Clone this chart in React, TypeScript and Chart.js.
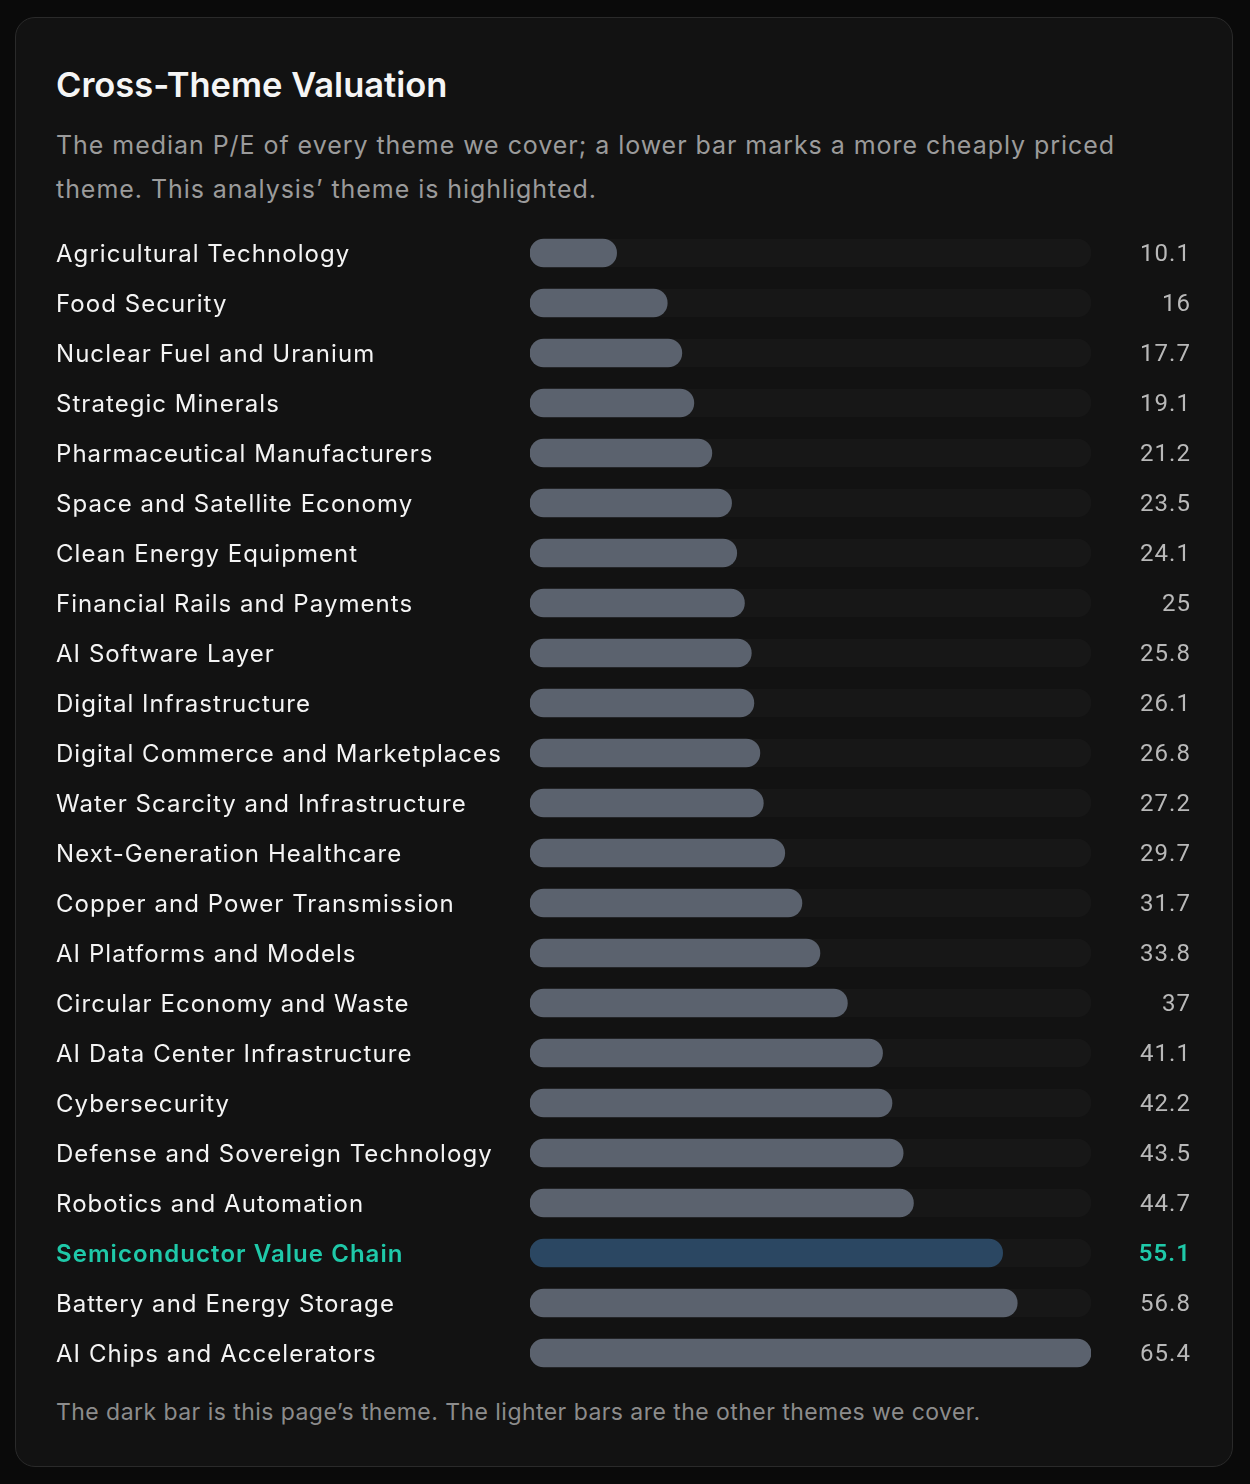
import React, { useEffect, useRef } from "react";
import { Chart, registerables } from "chart.js";

Chart.register(...registerables);

const themes: string[] = [
  "Agricultural Technology",
  "Food Security",
  "Nuclear Fuel and Uranium",
  "Strategic Minerals",
  "Pharmaceutical Manufacturers",
  "Space and Satellite Economy",
  "Clean Energy Equipment",
  "Financial Rails and Payments",
  "AI Software Layer",
  "Digital Infrastructure",
  "Digital Commerce and Marketplaces",
  "Water Scarcity and Infrastructure",
  "Next-Generation Healthcare",
  "Copper and Power Transmission",
  "AI Platforms and Models",
  "Circular Economy and Waste",
  "AI Data Center Infrastructure",
  "Cybersecurity",
  "Defense and Sovereign Technology",
  "Robotics and Automation",
  "Semiconductor Value Chain",
  "Battery and Energy Storage",
  "AI Chips and Accelerators",
];

const medianPE: number[] = [
  10.1, 16, 17.7, 19.1, 21.2, 23.5, 24.1, 25, 25.8, 26.1, 26.8, 27.2, 29.7,
  31.7, 33.8, 37, 41.1, 42.2, 43.5, 44.7, 55.1, 56.8, 65.4,
];

const valueLabels: string[] = medianPE.map((v) => String(v));

const highlightTheme = "Semiconductor Value Chain";

const TITLE = "Cross-Theme Valuation";
const SUBTITLE =
  "The median P/E of every theme we cover; a lower bar marks a more cheaply priced theme. This analysis\u2019 theme is highlighted.";
const FOOTER =
  "The dark bar is this page\u2019s theme. The lighter bars are the other themes we cover.";

const FONT = "Inter, 'Noto Sans', sans-serif";
const NUM_FONT = "Roboto, Inter, sans-serif";
const BAR = "#5b626e";
const BAR_HL = "#2b4762";
const TRACK = "#171717";
const TEAL = "#1fc9a9";

const letterSpacingPlugin = {
  id: "letterSpacing",
  beforeDraw(chart: any) {
    try {
      chart.ctx.letterSpacing = "1.05px";
    } catch (e) {}
  },
};

export default function App() {
  const canvasRef = useRef<HTMLCanvasElement | null>(null);

  useEffect(() => {
    const canvas = canvasRef.current;
    if (!canvas) return;
    const maxVal = Math.max(...medianPE);
    const hlIndex = themes.indexOf(highlightTheme);

    const zeroPad = (scale: any, w: number) => {
      scale.width = w;
      scale.paddingTop = 0;
      scale.paddingBottom = 0;
    };

    const chart = new Chart(canvas, {
      type: "bar",
      data: {
        labels: themes,
        datasets: [
          {
            label: "Median P/E",
            data: medianPE,
            backgroundColor: themes.map((t) => (t === highlightTheme ? BAR_HL : BAR)),
            borderRadius: 14,
            borderSkipped: false,
            barThickness: 28,
            grouped: false,
            order: 0,
            yAxisID: "y",
          },
          {
            label: "Track",
            data: themes.map(() => maxVal),
            backgroundColor: TRACK,
            borderRadius: 14,
            borderSkipped: false,
            barThickness: 28,
            grouped: false,
            order: 1,
            yAxisID: "y",
          },
        ],
      },
      options: {
        indexAxis: "y",
        animation: false,
        responsive: false,
        maintainAspectRatio: false,
        events: [],
        layout: { padding: 0 },
        plugins: {
          legend: { display: false },
          tooltip: { enabled: false },
          title: { display: false },
        },
        scales: {
          x: {
            display: false,
            min: 0,
            max: maxVal,
          },
          y: {
            type: "category",
            position: "left",
            offset: true,
            grid: { display: false },
            border: { display: false },
            afterFit: (scale: any) => zeroPad(scale, 474),
            ticks: {
              autoSkip: false,
              crossAlign: "far",
              padding: 0,
              labelOffset: 2,
              color: (ctx: any) => (ctx.index === hlIndex ? TEAL : "#f4f4f4"),
              font: (ctx: any) => ({
                family: FONT,
                size: 24,
                weight: ctx.index === hlIndex ? "600" : "400",
              }),
            },
          },
          y2: {
            type: "category",
            position: "right",
            labels: valueLabels,
            offset: true,
            grid: { display: false },
            border: { display: false },
            afterFit: (scale: any) => zeroPad(scale, 100),
            ticks: {
              autoSkip: false,
              crossAlign: "far",
              padding: 0,
              labelOffset: 2,
              color: (ctx: any) => (ctx.index === hlIndex ? TEAL : "#b9b9b9"),
              font: (ctx: any) => ({
                family: NUM_FONT,
                size: 24,
                weight: ctx.index === hlIndex ? "600" : "400",
              }),
            },
          },
        },
      },
      plugins: [letterSpacingPlugin],
    } as any);

    return () => chart.destroy();
  }, []);

  return (
    <div
      style={{
        position: "absolute",
        left: 0,
        top: 0,
        width: 1250,
        height: 1484,
        background: "#0a0a0a",
        fontFamily: FONT,
      }}
    >
      <div
        style={{
          position: "absolute",
          left: 15,
          top: 17,
          width: 1216,
          height: 1448,
          background: "#121212",
          border: "1px solid #2a2a2a",
          borderRadius: 20,
        }}
      />
      <div
        style={{
          position: "absolute",
          left: 56,
          top: 62,
          fontSize: 34.5,
          lineHeight: "46px",
          fontWeight: 600,
          color: "#f5f5f5",
          whiteSpace: "nowrap",
        }}
      >
        {TITLE}
      </div>
      <div
        style={{
          position: "absolute",
          left: 56,
          top: 123,
          width: 1095,
          fontSize: 25,
          letterSpacing: "0.95px",
          lineHeight: "44px",
          color: "#9b9b9b",
        }}
      >
        {SUBTITLE}
      </div>
      <canvas
        ref={canvasRef}
        width={1135}
        height={1150}
        style={{ position: "absolute", left: 56, top: 228, width: 1135, height: 1150 }}
      />
      <div
        style={{
          position: "absolute",
          left: 56,
          top: 1397,
          fontSize: 23,
          letterSpacing: "0.45px",
          lineHeight: "30px",
          color: "#8c8c8c",
          whiteSpace: "nowrap",
        }}
      >
        {FOOTER}
      </div>
    </div>
  );
}
